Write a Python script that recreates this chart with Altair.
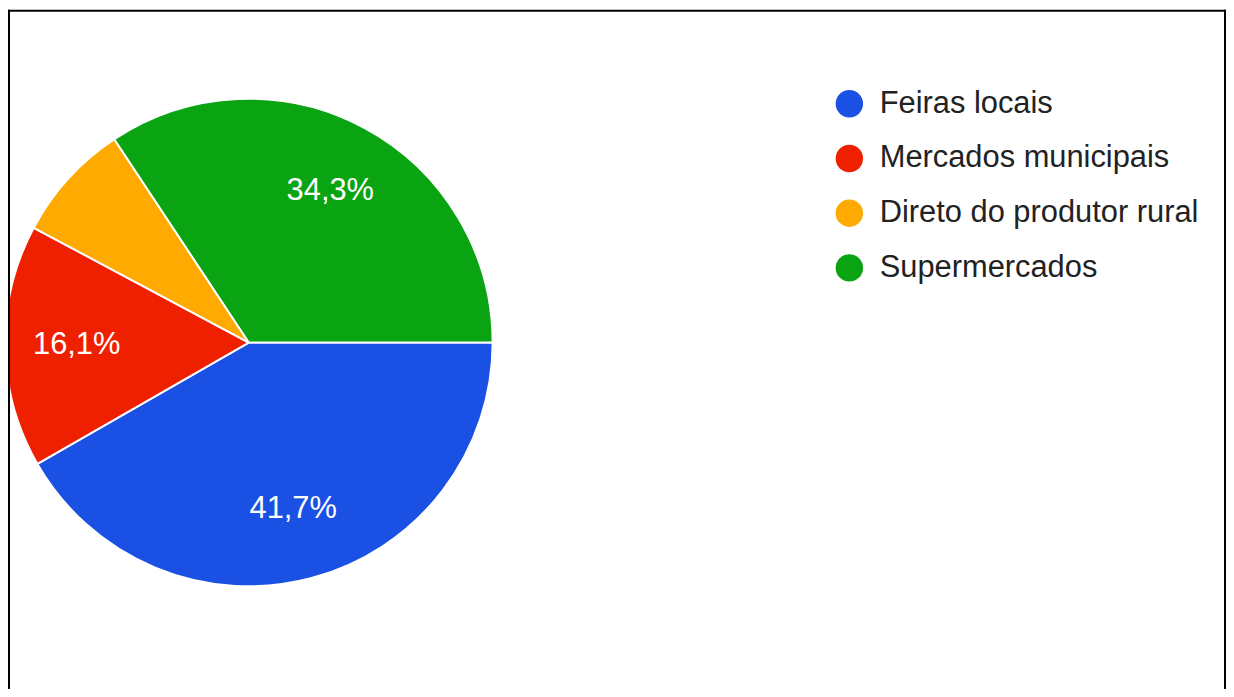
import math
import altair as alt
import pandas as pd

categories = ["Feiras locais", "Mercados municipais", "Direto do produtor rural", "Supermercados"]
values = [41.7, 16.1, 7.9, 34.3]
colors = ["#1a50e4", "#ee2000", "#ffaa00", "#0aa312"]


def fmt(v):
    return (f"{v:.1f}".replace(".", ",") + "%") if v >= 10 else ""


df = pd.DataFrame({
    "cat": categories,
    "val": values,
    "ord": list(range(len(categories))),
    "lab": [fmt(v) for v in values],
})

FONT = "Liberation Sans"
CX, CY, R = 242, 334.5, 245

theta = alt.Theta("val:Q", stack=True,
                  scale=alt.Scale(range=[math.pi / 2, math.pi / 2 + 2 * math.pi]))

arcs = alt.Chart(df).mark_arc(outerRadius=R, stroke="white", strokeWidth=2).encode(
    theta=theta,
    order=alt.Order("ord:Q"),
    color=alt.Color(
        "cat:N",
        scale=alt.Scale(domain=categories, range=colors),
        legend=alt.Legend(
            orient="none", legendX=830, legendY=79, title=None,
            symbolType="circle", symbolSize=760, symbolStrokeWidth=0, symbolOpacity=1,
            labelFontSize=31, labelFont=FONT, labelColor="#222222",
            rowPadding=23, labelOffset=15, labelLimit=500,
        ),
    ),
    x=alt.value(CX),
    y=alt.value(CY),
)

labels = alt.Chart(df).mark_text(radius=173, fontSize=31, font=FONT, color="white").encode(
    theta=theta,
    order=alt.Order("ord:Q"),
    text="lab:N",
    x=alt.value(CX),
    y=alt.value(CY),
)

frame_df = pd.DataFrame({"k": [0]})
left = alt.Chart(frame_df).mark_rule(color="black", strokeWidth=2).encode(
    x=alt.value(1), y=alt.value(0), y2=alt.value(700))
top = alt.Chart(frame_df).mark_rule(color="black", strokeWidth=2).encode(
    x=alt.value(0), x2=alt.value(1224), y=alt.value(1))
right = alt.Chart(frame_df).mark_rule(color="black", strokeWidth=2).encode(
    x=alt.value(1223), y=alt.value(0), y2=alt.value(700))

chart = alt.layer(arcs, labels, left, top, right).properties(
    width=1224, height=681,
    autosize=alt.AutoSizeParams(type="none"),
    padding=0,
).configure_view(stroke=None)

chart.save("out.html", embed_options={"renderer": "svg", "actions": False})
